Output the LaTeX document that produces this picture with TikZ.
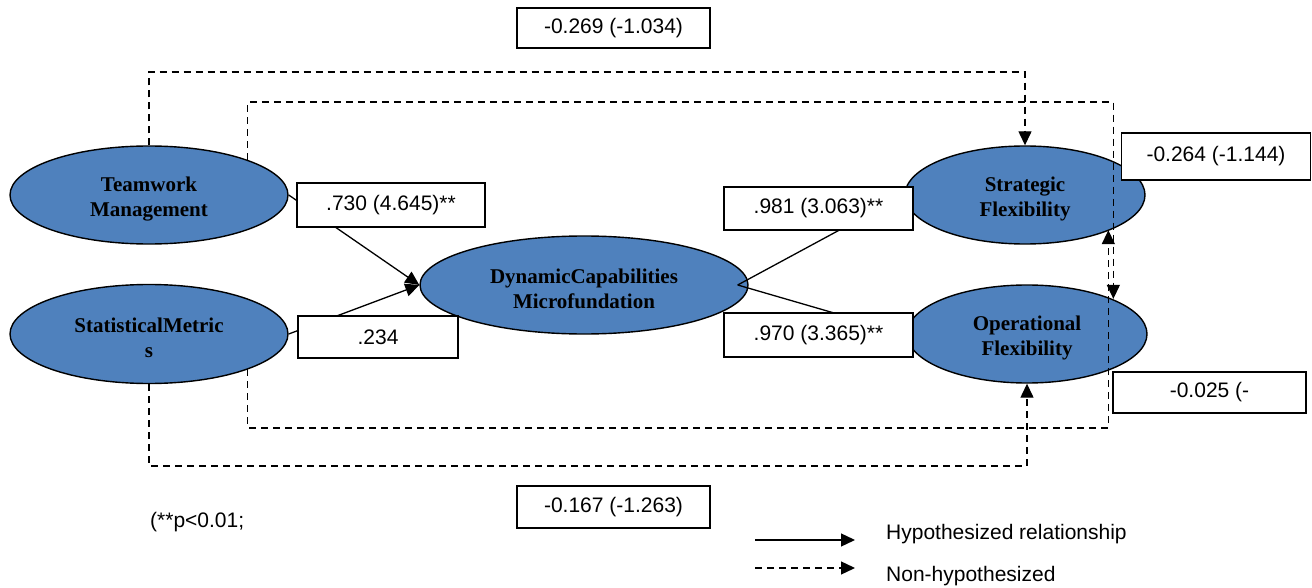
\documentclass[tikz,border=0pt]{standalone}
\usepackage{fontspec}
\setmainfont{Liberation Serif}
\setsansfont{Liberation Sans}
\usetikzlibrary{shapes.geometric,arrows.meta}
\definecolor{ellblue}{HTML}{4F81BD}
\begin{document}
\begin{tikzpicture}[x=1pt,y=-1pt,
  latent/.style={ellipse, draw=black, line width=1.4pt, fill=ellblue, inner sep=0pt},
  lattext/.style={inner sep=0pt, align=center, yshift=-4pt,
    font=\bfseries\fontsize{21}{25}\selectfont},
  coef/.style={draw=black, line width=1.4pt, fill=white, inner sep=0pt,
    font=\sffamily\fontsize{21}{24}\selectfont},
  legtext/.style={inner sep=0pt, anchor=west, font=\sffamily\fontsize{21}{24}\selectfont},
  hyp/.style={line width=1.3pt, -{Triangle[length=14pt,width=13pt]}},
  nonhyp/.style={line width=1.3pt, dash pattern=on 7pt off 5pt, -{Triangle[length=14pt,width=13pt]}},
  plainline/.style={line width=1.3pt}
]
\useasboundingbox (0,0) rectangle (1312,588);

% latent variables
\node[latent, minimum width=278pt, minimum height=98pt,
  label={[lattext]center:{Teamwork\\Management}}] (tw) at (149,195) {};
\node[latent, minimum width=278pt, minimum height=99pt,
  label={[lattext]center:{StatisticalMetric\\s}}] (sm) at (149,334) {};
\node[latent, minimum width=328pt, minimum height=98pt,
  label={[lattext]center:{DynamicCapabilities\\Microfundation}}] (dc) at (584,285) {};
\node[latent, minimum width=240pt, minimum height=98pt,
  label={[lattext]center:{Strategic\\Flexibility}}] (sf) at (1025,195) {};
\node[latent, minimum width=240pt, minimum height=98pt,
  label={[lattext]center:{Operational\\Flexibility}}] (of) at (1027,334) {};

% hypothesized paths
\draw[hyp] (tw.east) -- (dc.west);
\draw[hyp] (sm.east) -- (dc.west);
\draw[plainline] ([xshift=-11pt]dc.east) -- (sf.west);
\draw[plainline] ([xshift=-11pt]dc.east) -- (of.west);

% coefficient boxes
\node[coef, minimum width=188pt, minimum height=44pt] (b1) at (391,205) {.730 (4.645)**};
\node[coef, minimum width=160pt, minimum height=42pt] (b2) at (378,337) {.234};
\node[coef, minimum width=189pt, minimum height=43pt] (b3) at (818.5,208.5) {.981 (3.063)**};
\node[coef, minimum width=189pt, minimum height=44pt] (b4) at (818.5,335) {.970 (3.365)**};
\node[coef, minimum width=189pt, minimum height=47pt] (b5) at (1216,156.5) {-0.264 (-1.144)};
\node[coef, minimum width=193pt, minimum height=41pt] (b6) at (1209.5,392.5) {-0.025 (-};
\node[coef, minimum width=193pt, minimum height=40pt] (b7) at (613.5,28) {-0.269 (-1.034)};
\node[coef, minimum width=193pt, minimum height=42pt] (b8) at (613.5,507) {-0.167 (-1.263)};

% non-hypothesized paths
\coordinate (r72) at (600,72);
\coordinate (r102) at (600,102);
\coordinate (r428) at (600,428);
\coordinate (r466) at (600,466);
\draw[nonhyp] (tw.north) |- (r72) -| (sf.north);
\draw[nonhyp] (tw.north east) |- (r102) -| ([xshift=1pt]of.north east);
\draw[nonhyp] (sm.south east) |- (r428) -| ([xshift=-2pt]sf.south east);
\draw[nonhyp] (sm.south) |- (r466) -| (of.south);

% note and legend
\node[legtext] (note) at (150,522) {(**p<0.01;};
\coordinate (l1a) at (755,540);
\coordinate (l1b) at (855,540);
\coordinate (l2a) at (755,568);
\coordinate (l2b) at (855,568);
\draw[hyp] (l1a) -- (l1b);
\draw[nonhyp] (l2a) -- (l2b);
\node[legtext] (leg1) at (886,534) {Hypothesized relationship};
\node[legtext] (leg2) at (886,576) {Non-hypothesized};
\end{tikzpicture}
\end{document}
